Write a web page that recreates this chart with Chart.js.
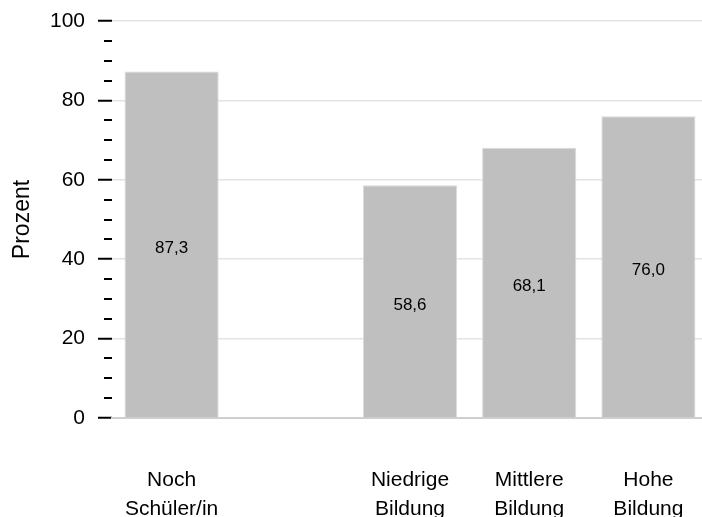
<!DOCTYPE html>
<html>
<head>
<meta charset="utf-8">
<script src="https://cdn.jsdelivr.net/npm/chart.js@4"></script>
<style>
  html, body { margin: 0; padding: 0; background: #fff; overflow: hidden; }
</style>
</head>
<body>
<canvas id="chart" width="708" height="517" style="display:block"></canvas>
<script>
// Categories (second slot is left empty in the original)
const categories = [
    ['Noch', 'Schüler/in'],
    '',
    ['Niedrige', 'Bildung'],
    ['Mittlere', 'Bildung'],
    ['Hohe', 'Bildung']
]
// Share in percent
const values = [87.3, null, 58.6, 68.1, 76.0]
const valueLabels = ['87,3', '', '58,6', '68,1', '76,0']
const yTicks = [0, 20, 40, 60, 80, 100]
const minorStep = 5

Chart.defaults.font.family = "'Liberation Sans', Arial, sans-serif"
Chart.defaults.color = '#000'

// Draws short minor tick marks on the y axis
const minorTicks = {
    id: 'minorTicks',
    afterDraw(chart) {
        const ctx = chart.ctx
        const y = chart.scales.y
        const left = chart.chartArea.left
        ctx.save()
        ctx.strokeStyle = '#000'
        ctx.lineWidth = 2
        for (let v = y.min; v <= y.max; v += minorStep) {
            if (yTicks.includes(v)) continue
            const py = Math.round(y.getPixelForValue(v))
            ctx.beginPath()
            ctx.moveTo(left - 8, py)
            ctx.lineTo(left, py)
            ctx.stroke()
        }
        ctx.restore()
    }
}

// Value labels in the middle of each bar
const barLabels = {
    id: 'barLabels',
    afterDatasetsDraw(chart) {
        const ctx = chart.ctx
        const meta = chart.getDatasetMeta(0)
        ctx.save()
        ctx.font = "17px 'Liberation Sans', Arial, sans-serif"
        ctx.fillStyle = '#000'
        ctx.textAlign = 'center'
        ctx.textBaseline = 'middle'
        meta.data.forEach((bar, i) => {
            if (values[i] == null) return
            ctx.fillText(valueLabels[i], bar.x, (bar.y + bar.base) / 2 + 4)
        })
        ctx.restore()
    }
}

new Chart(document.getElementById('chart'), {
    type: 'bar',
    data: {
        labels: categories,
        datasets: [{
            data: values,
            backgroundColor: '#bfbfbf',
            borderColor: '#dadada',
            borderWidth: 1,
            barPercentage: 0.79,
            categoryPercentage: 1
        }]
    },
    options: {
        responsive: false,
        animation: false,
        devicePixelRatio: 1,
        layout: { padding: { top: 21, right: 0 } },
        plugins: {
            legend: { display: false },
            tooltip: { enabled: false }
        },
        scales: {
            x: {
                grid: { display: false },
                border: { display: true, color: '#cfcfcf', width: 2 },
                ticks: {
                    padding: 40,
                    font: { size: 21, lineHeight: 1.38 },
                    maxRotation: 0,
                    autoSkip: false
                },
                afterFit(scale) {
                    scale.height = 99
                    // keep the tick padding from shrinking the plot sideways
                    scale.paddingLeft = 0
                    scale.paddingRight = 0
                }
            },
            y: {
                min: 0,
                max: 100,
                afterBuildTicks(scale) {
                    scale.ticks = yTicks.map(v => ({ value: v }))
                },
                grid: {
                    color: '#e3e3e3',
                    lineWidth: 1.5,
                    tickColor: '#000',
                    tickWidth: 2,
                    tickLength: 14
                },
                border: { display: false },
                ticks: {
                    padding: 13,
                    font: { size: 21 }
                },
                title: {
                    display: true,
                    text: 'Prozent',
                    font: { size: 23 },
                    padding: { top: 9, bottom: 0 }
                },
                afterFit(scale) {
                    scale.width = 112
                    scale.paddingTop = 0
                    scale.paddingBottom = 0
                }
            }
        }
    },
    plugins: [minorTicks, barLabels]
})
</script>
</body>
</html>
